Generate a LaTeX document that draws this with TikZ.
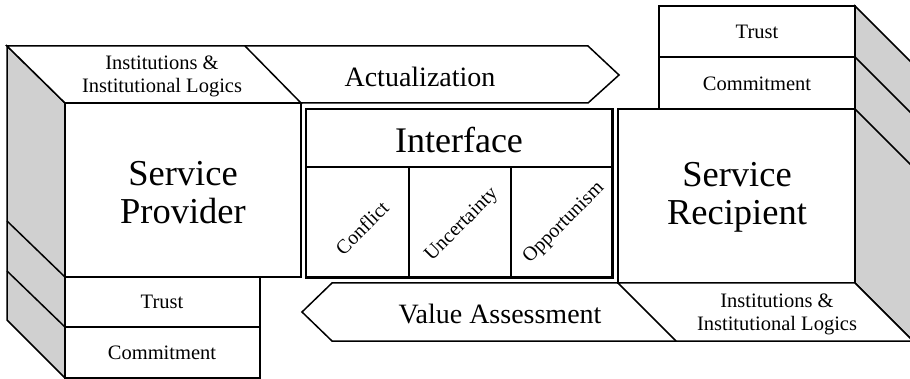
\documentclass[tikz,border=0pt]{standalone}
\usepackage{fontspec}
\setmainfont{Liberation Serif}
\definecolor{sidegray}{RGB}{208,208,208}
\begin{document}
\begin{tikzpicture}[x=1pt,y=-1pt,line join=miter,
  ln/.style={draw=black,line width=1.5pt},
  side/.style={ln,fill=sidegray},
  face/.style={ln,fill=white},
  ibox/.style={draw=black,line width=2.2pt},
  big/.style={font=\fontsize{36.5}{38}\selectfont,align=center,inner sep=0pt},
  mid/.style={font=\fontsize{28}{30}\selectfont,inner sep=0pt},
  small/.style={font=\fontsize{20.5}{23}\selectfont,align=center,inner sep=0pt},
  rot/.style={font=\fontsize{20}{23}\selectfont,rotate=45,inner sep=0pt}]
\useasboundingbox (0,0) rectangle (910,379);

% ---------- left cube (Service Provider)
\path[side] (7,46) -- (65,103) -- (65,378) -- (7,320) -- cycle;
\draw[ln] (7,221) -- (65,277);
\draw[ln] (7,271) -- (65,327);
\path[face] (7,46) -- (245,46) -- (301,103) -- (65,103) -- cycle;
\path[face] (65,103) rectangle (301,277);
\path[face] (65,277) rectangle (260,327);
\path[face] (65,327) rectangle (260,378);

% ---------- Actualization arrow
\draw[ln] (245,46) -- (588,46) -- (619,75) -- (588,103) -- (301,103);

% ---------- Interface
\draw[ibox] (306,109) rectangle (612.5,277.5);
\draw[ln] (306,167) -- (612.5,167);
\draw[ln] (409,167) -- (409,277.5);
\draw[ln] (511,167) -- (511,277.5);

% ---------- right cube (Service Recipient)
\path[side] (855,6) -- (913,64) -- (913,341) -- (855,283) -- cycle;
\draw[ln] (855,57) -- (913,115);
\draw[ln] (855,109) -- (913,167);
\path[face] (659,6) rectangle (855,57);
\path[face] (659,57) rectangle (855,109);
\path[face] (618,109) rectangle (855,283);
\path[face] (618,283) -- (855,283) -- (913,341) -- (676,341) -- cycle;

% ---------- Value Assessment arrow
\draw[ln] (618,283) -- (332,283) -- (302,312) -- (332,341) -- (676,341);

% ---------- texts
\node[small] (instL) at (162,76) {Institutions \&\\Institutional Logics};
\node[big] (sp) at (183,193) {Service\\Provider};
\node[small] (trustL) at (162,302) {Trust};
\node[small] (commL) at (162,353) {Commitment};
\node[mid] (act) at (420,77) {Actualization};
\node[font=\fontsize{36}{40}\selectfont,inner sep=0pt] (intf) at (459,140) {Interface};
\node[rot] (conf) at (362,228) {Conflict};
\node[rot] (unc) at (462,225) {Uncertainty};
\node[rot] (opp) at (564,223) {Opportunism};
\node[small] (trustR) at (757,32) {Trust};
\node[small] (commR) at (757,84) {Commitment};
\node[big] (sr) at (737,197) {Service\\Recipient};
\node[small] (instR) at (777,314) {Institutions \&\\Institutional Logics};
\node[mid] (va) at (500,314) {Value Assessment};
\end{tikzpicture}
\end{document}
